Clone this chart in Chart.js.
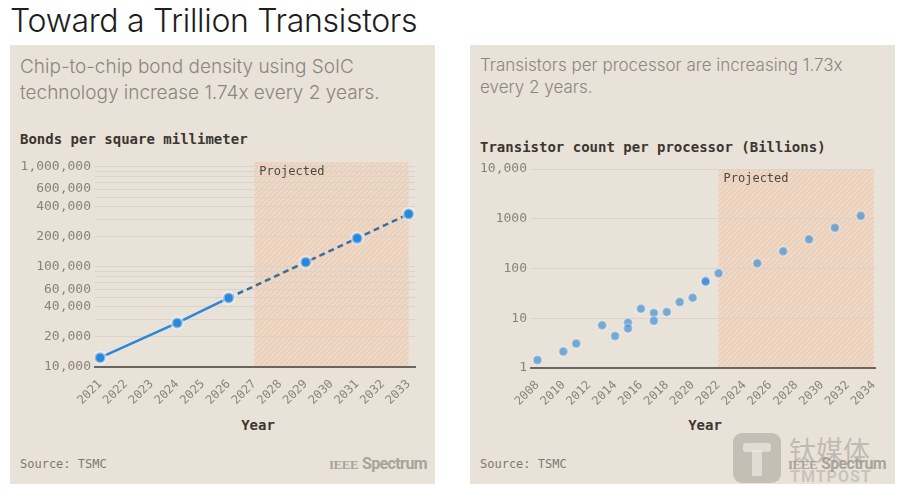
<!DOCTYPE html>
<html>
<head>
<meta charset="utf-8">
<script src="https://cdn.jsdelivr.net/npm/chart.js@4.4.1/dist/chart.umd.min.js"></script>
<style>
  body { margin: 0; width: 903px; height: 500px; background: #fff; position: relative; overflow: hidden;
         font-family: Inter, "Open Sans", sans-serif; }
  .abs { position: absolute; white-space: nowrap; }
  .panel { position: absolute; top: 45px; width: 425px; height: 439px; background: #e9e2d8; }
  .mono { font-family: "DejaVu Sans Mono", "Liberation Mono", monospace; }
  .sub { color: #8b867f; font-weight: 300; }
  .axt { font-weight: bold; font-size: 14px; color: #3b3631; }
  .src { font-size: 12px; color: #7f7970; }
  .year { width: 120px; text-align: center; font-weight: bold; font-size: 14px; color: #3b3631; }
  .ieee { color: #aaa39a; font-weight: bold; }
  .ieee b { font-family: "Liberation Serif", serif; font-size: 13px; letter-spacing: -0.5px; }
  .ieee span { font-family: Roboto, sans-serif; font-size: 16px; letter-spacing: -0.6px; }
  .box { position: absolute; width: 425px; height: 260px; top: 150px; }
</style>
</head>
<body>
<div class="abs" style="left:10px;top:1px;font-size:32px;font-weight:300;color:#1e1e1e;letter-spacing:-0.3px;">Toward a Trillion Transistors</div>

<div class="panel" style="left:10px;"></div>
<div class="panel" style="left:470px;"></div>

<div class="abs sub" style="left:20px;top:54px;font-size:19px;line-height:26px;">Chip-to-chip bond density using SoIC<br>technology increase 1.74x every 2 years.</div>
<div class="abs sub" style="left:480px;top:54px;font-size:17px;line-height:22px;">Transistors per processor are increasing 1.73x<br>every 2 years.</div>

<div class="abs mono axt" style="left:20px;top:131px;">Bonds per square millimeter</div>
<div class="abs mono axt" style="left:480px;top:139px;">Transistor count per processor (Billions)</div>

<div class="box" style="left:10px;"><canvas id="bonds"></canvas></div>
<div class="box" style="left:470px;"><canvas id="procs"></canvas></div>

<div class="abs mono year" style="left:198px;top:417px;">Year</div>
<div class="abs mono year" style="left:645px;top:417px;">Year</div>

<div class="abs mono src" style="left:20px;top:457px;">Source: TSMC</div>
<div class="abs mono src" style="left:480px;top:457px;">Source: TSMC</div>

<div class="abs ieee" style="left:329px;top:453px;"><b>IEEE</b> <span>Spectrum</span></div>
<div class="abs ieee" style="left:788px;top:453px;"><b>IEEE</b> <span>Spectrum</span></div>

<!-- watermark -->
<div class="abs" style="left:733px;top:433px;width:48px;height:50px;border-radius:9px;background:rgba(150,146,140,0.45);"></div>
<div class="abs" style="left:743px;top:443px;width:28px;height:9px;border-radius:3px;background:rgba(235,232,228,0.7);"></div>
<div class="abs" style="left:752px;top:450px;width:10px;height:26px;background:rgba(235,232,228,0.7);"></div>
<div class="abs" style="left:789px;top:430px;font-size:27px;color:rgba(150,146,140,0.5);font-family:'Noto Sans CJK SC',sans-serif;">钛媒体</div>
<div class="abs" style="left:790px;top:467px;font-size:16px;font-weight:bold;letter-spacing:1px;color:rgba(150,146,140,0.4);font-family:Roboto,sans-serif;">TMTPOST</div>

<script>
// ---- data: bonds per square millimeter (SoIC) ----
const bondYears = [2021, 2024, 2026, 2029, 2031, 2033];
const bondDensity = [12400, 27600, 49000, 111600, 193500, 338000];
const bondAxisYears = [2021, 2022, 2023, 2024, 2025, 2026, 2027, 2028, 2029, 2030, 2031, 2032, 2033];
const bondGridValues = [10000, 20000, 30000, 40000, 50000, 60000, 70000, 80000, 90000,
  100000, 200000, 300000, 400000, 500000, 600000, 700000, 800000, 900000, 1000000];
const bondLabelValues = [10000, 20000, 40000, 60000, 100000, 200000, 400000, 600000, 1000000];
const bondProjected = [2027, 2033];
const bondDashFrom = 2026;

// ---- data: transistor count per processor (billions) ----
const procYears = [2008, 2010, 2011, 2013, 2014, 2015, 2015, 2016, 2017, 2017, 2018, 2019, 2020, 2021, 2021, 2022];
const procCounts = [1.45, 2.15, 3.1, 7.2, 4.4, 8.1, 6.25, 15.6, 12.8, 8.9, 13.4, 21.2, 25.9, 57, 54, 80];
const projYears = [2025, 2027, 2029, 2031, 2033];
const projCounts = [127, 221, 385, 660, 1150];
const procAxisYears = [2008, 2010, 2012, 2014, 2016, 2018, 2020, 2022, 2024, 2026, 2028, 2030, 2032, 2034];
const procTickValues = [1, 10, 100, 1000, 10000];
const procTickLabels = ['1', '10', '100', '1000', '10,000'];
const procProjected = [2022, 2034];

const MONO = '"DejaVu Sans Mono", "Liberation Mono", monospace';
const TICK = '#8a837a';
const GRID = '#dbd3c9';
const AXIS = '#6b655d';

function hatch() {
  const c = document.createElement('canvas');
  c.width = 5; c.height = 5;
  const g = c.getContext('2d');
  g.fillStyle = 'rgba(242,204,178,0.48)';
  g.fillRect(0, 0, 5, 5);
  g.strokeStyle = 'rgba(226,165,138,0.35)';
  g.lineWidth = 1;
  g.beginPath();
  g.moveTo(0, 5); g.lineTo(5, 0);
  g.moveTo(-1, 1); g.lineTo(1, -1);
  g.moveTo(4, 6); g.lineTo(6, 4);
  g.stroke();
  return g.createPattern(c, 'repeat');
}

// shaded "Projected" band, label drawn on top of the grid
const projectedBand = {
  id: 'projectedBand',
  beforeDraw(chart, args, opts) {
    const { ctx, chartArea, scales } = chart;
    const x0 = scales.x.getPixelForValue(opts.range[0]);
    const x1 = scales.x.getPixelForValue(opts.range[1]);
    ctx.save();
    ctx.fillStyle = hatch();
    ctx.fillRect(x0, chartArea.top, x1 - x0, chartArea.bottom - chartArea.top);
    ctx.restore();
  },
  beforeDatasetsDraw(chart, args, opts) {
    const { ctx, chartArea, scales } = chart;
    const x0 = scales.x.getPixelForValue(opts.range[0]);
    ctx.save();
    ctx.fillStyle = '#4d4842';
    ctx.font = '12px ' + MONO;
    ctx.textBaseline = 'middle';
    ctx.fillText('Projected', x0 + 5, chartArea.top + opts.labelDy);
    ctx.restore();
  }
};

function xAxis(min, max, years, h) {
  return {
    type: 'linear', min: min, max: max,
    afterBuildTicks: s => { s.ticks = years.map(v => ({ value: v })); },
    afterFit: s => { s.height = h; },
    grid: { display: false },
    border: { color: AXIS, width: 2 },
    ticks: { autoSkip: false, minRotation: 45, maxRotation: 45, padding: 2, color: TICK,
             font: { family: MONO, size: 12 }, callback: v => String(v) }
  };
}

new Chart(document.getElementById('bonds'), {
  type: 'line',
  plugins: [projectedBand],
  data: {
    datasets: [{
      data: bondYears.map((y, i) => ({ x: y, y: bondDensity[i] })),
      borderColor: '#2b87d8',
      borderWidth: 2.5,
      backgroundColor: '#2b87d8',
      pointRadius: 5.5,
      pointBorderColor: 'rgba(255,255,255,0.45)',
      pointBorderWidth: 3,
      segment: {
        borderDash: c => c.p0.parsed.x >= bondDashFrom ? [6, 4] : undefined,
        borderColor: c => c.p0.parsed.x >= bondDashFrom ? '#3a6e9e' : '#2b87d8'
      }
    }]
  },
  options: {
    responsive: true, maintainAspectRatio: false, animation: false,
    layout: { padding: { top: 12, right: 20, left: 0, bottom: 0 } },
    plugins: { legend: { display: false }, tooltip: { enabled: false },
               projectedBand: { range: bondProjected, labelDy: 10 } },
    scales: {
      x: xAxis(2020.8, 2033.25, bondAxisYears, 43),
      y: {
        type: 'logarithmic', min: 10000, max: 1120000,
        afterBuildTicks: s => { s.ticks = bondGridValues.map(v => ({ value: v })); },
        afterFit: s => { s.width = 85; },
        grid: { color: GRID, drawTicks: false },
        border: { display: false },
        ticks: { autoSkip: false, padding: 4, color: TICK, font: { family: MONO, size: 13 },
                 callback: v => bondLabelValues.includes(v) ? v.toLocaleString('en-US') : '' }
      }
    }
  }
});

const dot = {
  backgroundColor: 'rgba(48,132,208,0.62)',
  pointRadius: 4.5,
  pointBorderColor: 'rgba(255,255,255,0.3)',
  pointBorderWidth: 2
};

new Chart(document.getElementById('procs'), {
  type: 'scatter',
  plugins: [projectedBand],
  data: {
    datasets: [
      Object.assign({ data: procYears.map((y, i) => ({ x: y, y: procCounts[i] })) }, dot),
      Object.assign({ data: projYears.map((y, i) => ({ x: y, y: projCounts[i] })) }, dot)
    ]
  },
  options: {
    responsive: true, maintainAspectRatio: false, animation: false,
    layout: { padding: { top: 19, right: 20, left: 0, bottom: 0 } },
    plugins: { legend: { display: false }, tooltip: { enabled: false },
               projectedBand: { range: procProjected, labelDy: 10 } },
    scales: {
      x: xAxis(2007.5, 2034.1, procAxisYears, 42),
      y: {
        type: 'logarithmic', min: 1, max: 10000,
        afterBuildTicks: s => { s.ticks = procTickValues.map(v => ({ value: v })); },
        afterFit: s => { s.width = 61; },
        grid: { color: GRID, drawTicks: false },
        border: { display: false },
        ticks: { autoSkip: false, padding: 4, color: TICK, font: { family: MONO, size: 13 },
                 callback: v => procTickLabels[procTickValues.indexOf(v)] }
      }
    }
  }
});
</script>
</body>
</html>
